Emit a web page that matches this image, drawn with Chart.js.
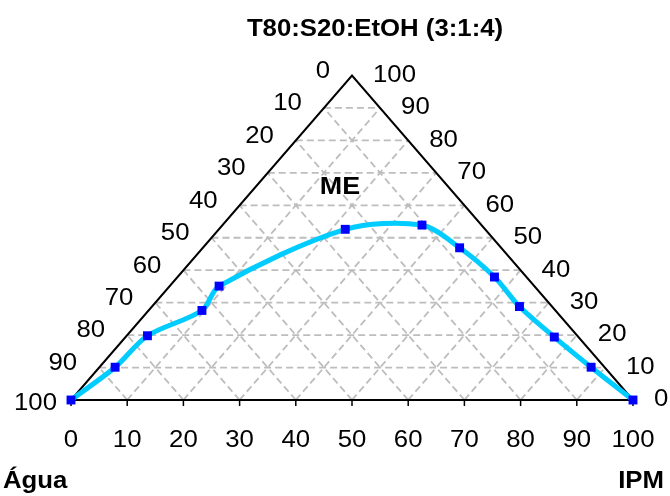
<!DOCTYPE html>
<html>
<head>
<meta charset="utf-8">
<script src="https://cdn.jsdelivr.net/npm/chart.js@4/dist/chart.umd.min.js"></script>
<style>
  body { margin: 0; background: #fff; }
  #chart { display: block; }
</style>
</head>
<body>
<canvas id="chart" width="670" height="496"></canvas>
<script>
// ternary composition of the boundary points (%), water = 100 - surfactant - oil
const surfactant = [0, 10.1, 19.8, 27.6, 35.1, 52.6, 53.9, 46.9, 37.9, 28.8, 19.4, 10.1, 0];
const oil        = [0, 2.8, 3.7, 9.5, 8.8, 22.5, 35.5, 45.7, 56.4, 65.4, 76.3, 87.5, 100];

const bottomTicks = ['0', '10', '20', '30', '40', '50', '60', '70', '80', '90', '100'];
const leftTicks   = ['100', '90', '80', '70', '60', '50', '40', '30', '20', '10', '0'];  // bottom -> apex
const rightTicks  = ['0', '10', '20', '30', '40', '50', '60', '70', '80', '90', '100'];  // bottom -> apex

const titleText = 'T80:S20:EtOH (3:1:4)';
const regionLabel = 'ME';
const cornerLeft = 'Água';
const cornerRight = 'IPM';

const FONT = '"Liberation Sans", Arial, sans-serif';
const SX = 1.12; // the original text is a bit wide

function toXY(s, o) {
    return { x: o + s / 2, y: s };
}

const points = surfactant.map((s, i) => toXY(s, oil[i]));

function txt(ctx, s, x, y, align, size, bold) {
    ctx.save();
    ctx.translate(x, y);
    ctx.scale(SX, 1);
    ctx.font = (bold ? 'bold ' : '') + size + 'px ' + FONT;
    ctx.fillStyle = '#000';
    ctx.textAlign = align;
    ctx.textBaseline = 'middle';
    ctx.fillText(s, 0, 0);
    ctx.restore();
}

const ternaryFrame = {
    id: 'ternaryFrame',
    beforeDatasetsDraw(chart) {
        const ctx = chart.ctx;
        const xs = chart.scales.x, ys = chart.scales.y;
        const P = (x, y) => [xs.getPixelForValue(x), ys.getPixelForValue(y)];
        const line = (a, b) => { ctx.beginPath(); ctx.moveTo(a[0], a[1]); ctx.lineTo(b[0], b[1]); ctx.stroke(); };

        // dashed grid
        ctx.save();
        ctx.strokeStyle = '#bdbdbd';
        ctx.lineWidth = 1.8;
        ctx.setLineDash([7, 4]);
        for (let k = 1; k <= 9; k++) {
            const v = k * 10;
            line(P(v / 2, v), P(100 - v / 2, v));
            line(P(v, 0), P(50 + v / 2, 100 - v));
            line(P(v, 0), P(v / 2, v));
        }
        ctx.restore();

        // triangle
        ctx.save();
        ctx.strokeStyle = '#000';
        ctx.lineWidth = 2;
        ctx.beginPath();
        const a = P(0, 0), b = P(100, 0), c = P(50, 100);
        ctx.moveTo(a[0], a[1]); ctx.lineTo(b[0], b[1]); ctx.lineTo(c[0], c[1]); ctx.closePath();
        ctx.stroke();
        ctx.lineWidth = 1.5;
        for (let k = 0; k <= 10; k++) {
            const p = P(k * 10, 0);
            line([p[0], p[1]], [p[0], p[1] + 6]);
        }
        ctx.restore();

        // axis labels
        bottomTicks.forEach((t, k) => {
            const p = P(k * 10, 0);
            txt(ctx, t, p[0], p[1] + 41, 'center', 23);
        });
        leftTicks.forEach((t, k) => {
            const s = k * 10;
            const p = P(s / 2, s);
            const dx = k === 0 ? 14 : 22;
            const dy = k === 0 ? 4 : -4;
            txt(ctx, t, p[0] - dx, p[1] + dy, 'right', 23);
        });
        rightTicks.forEach((t, k) => {
            const s = k * 10;
            const p = P(100 - s / 2, s);
            txt(ctx, t, p[0] + 21, p[1], 'left', 23);
        });
    },
    afterDraw(chart) {
        const ctx = chart.ctx;
        txt(ctx, titleText, 375, 30, 'center', 23, true);
        txt(ctx, regionLabel, 340, 187, 'center', 24, true);
        txt(ctx, cornerLeft, 3, 482, 'left', 23, true);
        txt(ctx, cornerRight, 664, 482, 'right', 23, true);
    }
};

const config = {
    type: 'scatter',
    data: {
        datasets: [
            {
                data: points,
                showLine: true,
                borderColor: '#00ccff',
                borderWidth: 5,
                tension: 0.3,
                pointStyle: 'rect',
                pointRadius: 6.3,
                pointHoverRadius: 6.3,
                pointBackgroundColor: '#0000ff',
                pointBorderWidth: 0,
                clip: false,
            }
        ]
    },
    options: {
        responsive: false,
        animation: false,
        events: [],
        layout: { padding: { left: 71, right: 37, top: 75.5, bottom: 96 } },
        plugins: { legend: { display: false }, tooltip: { enabled: false } },
        scales: {
            x: { type: 'linear', display: false, min: 0, max: 100 },
            y: { type: 'linear', display: false, min: 0, max: 100 }
        }
    },
    plugins: [ternaryFrame]
};

new Chart(document.getElementById('chart'), config);
</script>
</body>
</html>
